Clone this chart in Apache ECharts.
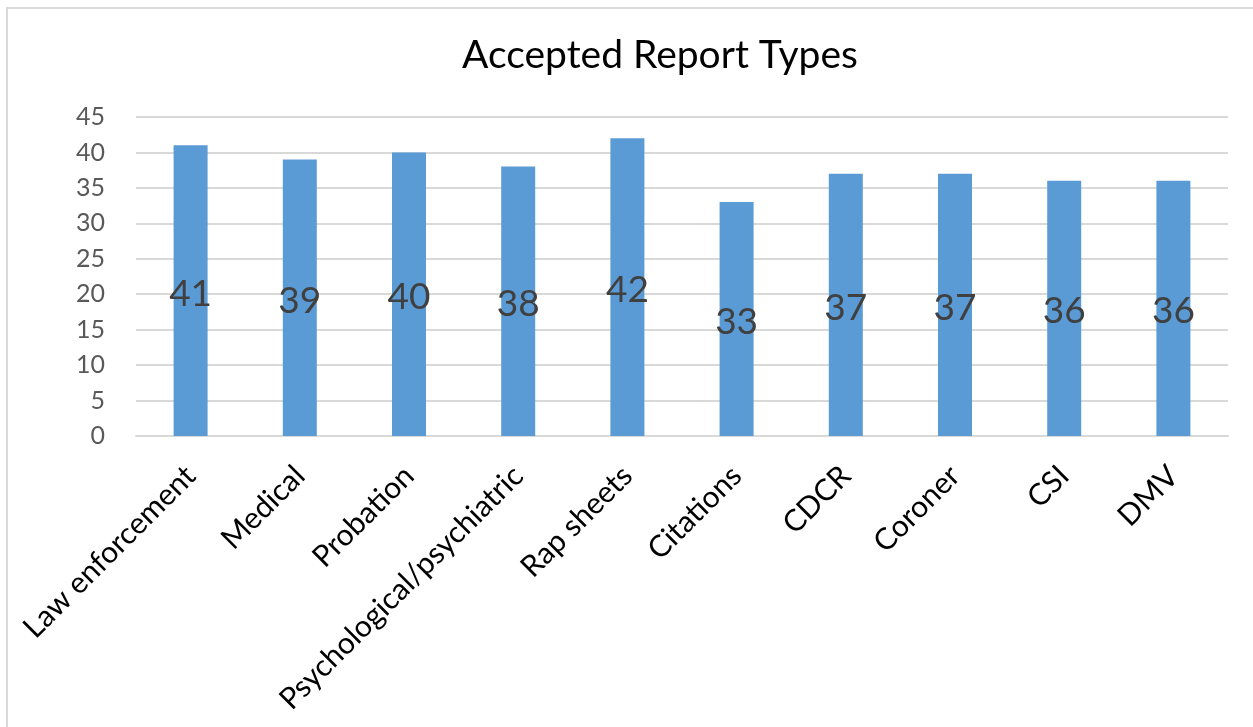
<!DOCTYPE html>
<html>
<head>
<meta charset="utf-8">
<script src="https://cdn.jsdelivr.net/npm/echarts@6/dist/echarts.min.js"></script>
<style>html,body{margin:0;padding:0;background:#fff;}#c{width:1253px;height:727px;}</style>
</head>
<body>
<div id="c"></div>
<script>
const titleText = "Accepted Report Types";
const categories = ["Law enforcement","Medical","Probation","Psychological/psychiatric","Rap sheets","Citations","CDCR","Coroner","CSI","DMV"];
const values = [41,39,40,38,42,33,37,37,36,36];
const yTicks = {min:0, max:45, interval:5};

const FONT = "Lato";
const chart = echarts.init(document.getElementById('c'), null, {renderer:'canvas'});
chart.setOption({
  animation:false,
  backgroundColor:'#ffffff',
  graphic:[{type:'rect', shape:{x:7, y:8, width:1260, height:740}, style:{fill:'none', stroke:'#d9d9d9', lineWidth:2}, silent:true}],
  title:{text:titleText, left:655, top:31, textAlign:'center',
    textStyle:{fontFamily:FONT, fontSize:39, fontWeight:'normal', color:'#000000'}},
  grid:{left:136, right:25, top:117, bottom:291, containLabel:false},
  xAxis:{type:'category', data:categories,
    axisLine:{show:true, lineStyle:{color:'#d9d9d9', width:2}},
    axisTick:{show:false},
    axisLabel:{rotate:45, interval:0, margin:35, fontFamily:FONT, fontSize:30, color:'#000000'}},
  yAxis:{type:'value', min:yTicks.min, max:yTicks.max, interval:yTicks.interval,
    axisLine:{show:false}, axisTick:{show:false},
    splitLine:{lineStyle:{color:'#d9d9d9', width:2}},
    axisLabel:{margin:31, fontFamily:FONT, fontSize:25, color:'#595959'}},
  series:[{type:'bar', data:values, barWidth:34,
    itemStyle:{color:'#5b9bd5'},
    label:{show:true, position:'inside', offset:[0,3], fontFamily:FONT, fontSize:37, color:'#404040'}}]
});
</script>
</body>
</html>
